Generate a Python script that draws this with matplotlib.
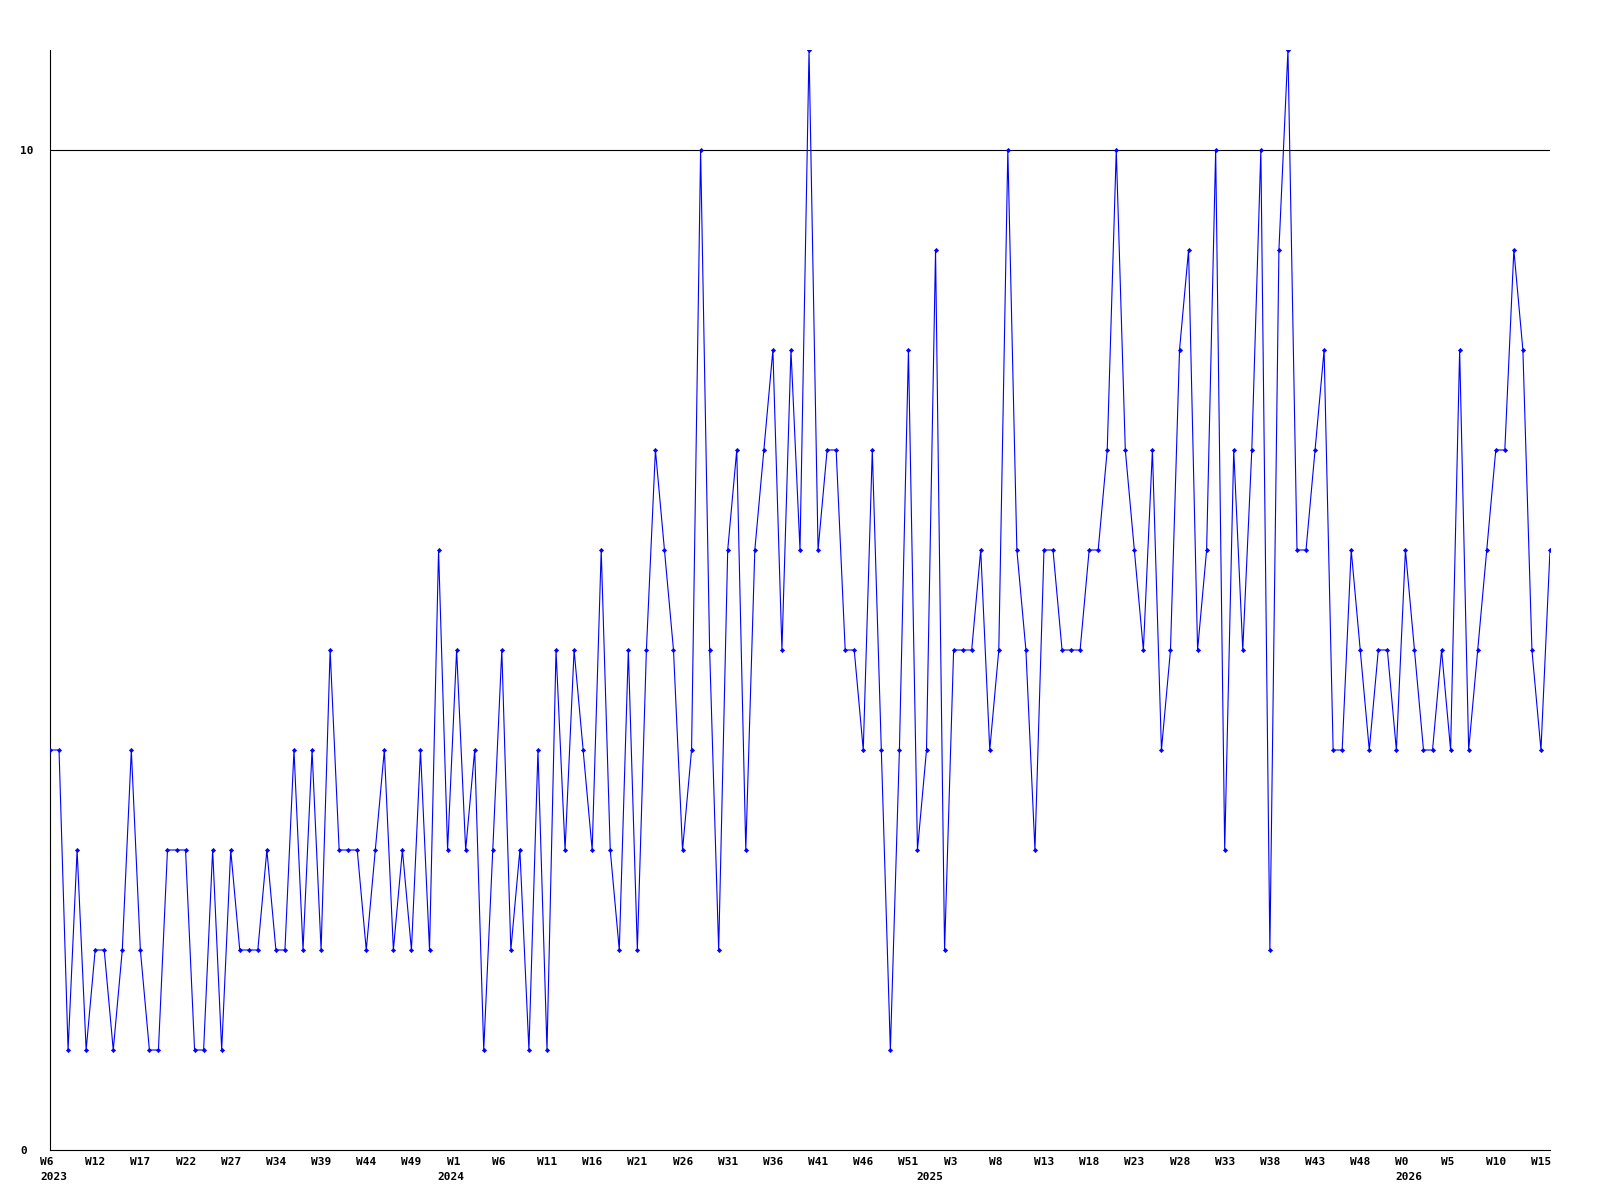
import matplotlib
matplotlib.use("Agg")
import matplotlib.pyplot as plt
import matplotlib.transforms as mtransforms

# weekly values, first point = W6 2023
values = [
    4, 4, 1, 3, 1, 2, 2, 1, 2, 4, 2, 1, 1, 3, 3, 3, 1, 1, 3, 1, 3, 2, 2, 2, 3, 2, 2, 4, 2, 4,
    2, 5, 3, 3, 3, 2, 3, 4, 2, 3, 2, 4, 2, 6, 3, 5,
    3, 4, 1, 3, 5, 2, 3, 1, 4, 1, 5, 3, 5, 4, 3, 6, 3, 2, 5, 2, 5, 7, 6, 5, 3, 4, 10, 5, 2, 6,
    7, 3, 6, 7, 8, 5, 8, 6, 11, 6, 7, 7, 5, 5,
    4, 7, 4, 1, 4, 8, 3, 4, 9, 2, 5, 5, 5, 6, 4, 5, 10, 6, 5, 3, 6, 6, 5, 5, 5, 6, 6, 7, 10, 7,
    6, 5, 7, 4, 5, 8, 9, 5, 6, 10, 3, 7, 5, 7, 10, 2,
    9, 11, 6, 6, 7, 8, 4, 4, 6, 5, 4, 5, 5, 4, 6, 5, 4, 4, 5, 4, 8, 4, 5, 6, 7, 7, 9, 8, 5, 4, 6,
]

week_labels = ["W6", "W12", "W17", "W22", "W27", "W34", "W39", "W44", "W49", "W1",
               "W6", "W11", "W16", "W21", "W26", "W31", "W36", "W41", "W46", "W51",
               "W3", "W8", "W13", "W18", "W23", "W28", "W33", "W38", "W43", "W48",
               "W0", "W5", "W10", "W15"]
week_label_index = list(range(0, 5 * len(week_labels), 5))

year_labels = ["2023", "2024", "2025", "2026"]
year_label_index = [0, 44, 97, 150]

y_ticks = [0, 10]

fig = plt.figure(figsize=(16, 12), dpi=100)
ax = fig.add_axes([50 / 1600, 50 / 1200, 1500 / 1600, 1100 / 1200])

x = list(range(len(values)))
ax.plot(x, values, color=(0, 0, 1), lw=0.8, marker="D", markersize=2.2,
        markeredgewidth=0.4, zorder=3)

ax.axhline(10, color="black", lw=0.8, zorder=1)

ax.set_xlim(0, len(values) - 1)
ax.set_ylim(0, 11)

for s in ["top", "right"]:
    ax.spines[s].set_visible(False)
for s in ["left", "bottom"]:
    ax.spines[s].set_linewidth(0.8)
    ax.spines[s].set_color("black")

font = dict(family="DejaVu Sans Mono", weight="bold", size=8)

ax.set_xticks([])
ax.set_yticks(y_ticks)
ax.set_yticklabels([str(v) for v in y_ticks], **font)
ax.tick_params(axis="y", length=0, pad=21.6)
for lbl in ax.get_yticklabels():
    lbl.set_horizontalalignment("left")

trans = mtransforms.blended_transform_factory(ax.transData, ax.transAxes)
for i, lab in zip(week_label_index, week_labels):
    ax.text(i, 0, lab, transform=trans + mtransforms.ScaledTranslation(-10 / 100, -12 / 100, fig.dpi_scale_trans),
            ha="left", va="center", **font)
for i, lab in zip(year_label_index, year_labels):
    ax.text(i, 0, lab, transform=trans + mtransforms.ScaledTranslation(-10 / 100, -27 / 100, fig.dpi_scale_trans),
            ha="left", va="center", **font)

fig.savefig("out.png", dpi=100, facecolor="white")
